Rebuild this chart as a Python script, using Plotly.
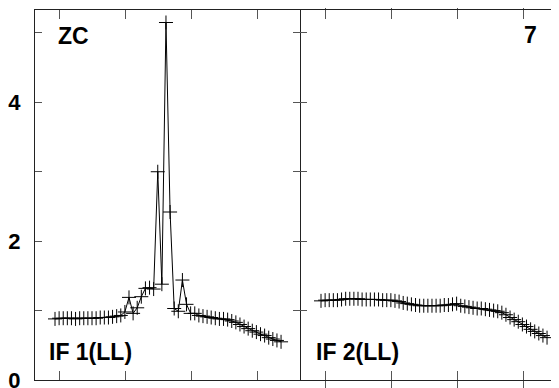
import plotly.graph_objects as go

# channel numbers
channels = list(range(1, 57))

# IF 1 (LL) amplitudes
if1_amp = [0.88, 0.89, 0.89, 0.89, 0.89, 0.88, 0.89, 0.89, 0.89, 0.89,
           0.89, 0.90, 0.90, 0.90, 0.91, 0.92, 0.93, 0.98, 1.19, 0.96,
           1.04, 1.20, 1.32, 1.33, 1.31, 3.00, 1.38, 5.15, 2.42, 1.03,
           0.99, 1.44, 1.09, 0.96, 0.96, 0.93, 0.92, 0.91, 0.90, 0.89,
           0.88, 0.88, 0.87, 0.85, 0.83, 0.80, 0.77, 0.74, 0.71, 0.69,
           0.66, 0.64, 0.61, 0.59, 0.57, 0.55]

# IF 2 (LL) amplitudes
if2_amp = [1.14, 1.15, 1.15, 1.15, 1.15, 1.16, 1.17, 1.17, 1.17, 1.17,
           1.16, 1.16, 1.16, 1.16, 1.16, 1.15, 1.15, 1.15, 1.14, 1.13,
           1.11, 1.10, 1.09, 1.08, 1.07, 1.07, 1.07, 1.07, 1.07, 1.07,
           1.08, 1.08, 1.09, 1.10, 1.07, 1.06, 1.05, 1.04, 1.03, 1.03,
           1.02, 1.01, 1.00, 0.99, 0.97, 0.94, 0.90, 0.87, 0.84, 0.80,
           0.77, 0.73, 0.70, 0.67, 0.64, 0.61]

x_tick_vals = [2.2, 18.2, 34.2, 50.2]
y_tick_vals = [0, 1, 2, 3, 4, 5]
y_tick_text = ["0", "", "2", "", "4", ""]

panel_labels = ["IF 1(LL)", "IF 2(LL)"]
source_name = "ZC"
plot_number = "7"

# the page body has an 8px margin, so the figure is sized to end at the window edge
OFF = 8
W, H = 559 - OFF, 388 - OFF
ML, MR, MT, MB = 35 - OFF, 0, 10 - OFF, 8
PW, PH = W - ML - MR, H - MT - MB
split = (300 - 35) / PW

line_col = "#222222"
tick_col = "#555555"

fig = go.Figure()
marker = dict(symbol="cross-thin", size=10, line=dict(width=1, color="black"), color="black")
fig.add_trace(go.Scatter(x=channels, y=if1_amp, mode="lines+markers",
                         line=dict(color="black", width=1), marker=marker,
                         xaxis="x", yaxis="y", showlegend=False))
fig.add_trace(go.Scatter(x=channels, y=if2_amp, mode="lines+markers",
                         line=dict(color="black", width=1), marker=marker,
                         xaxis="x2", yaxis="y2", showlegend=False))
# invisible trace to carry the right-hand tick axis of the second panel
fig.add_trace(go.Scatter(x=[channels[0]], y=[if2_amp[0]], mode="markers",
                         marker=dict(opacity=0), xaxis="x2", yaxis="y3",
                         showlegend=False, hoverinfo="skip"))

yrange = [0, 5.33]
xcommon = dict(tickvals=x_tick_vals, ticks="inside", ticklen=9, tickcolor=tick_col,
               showticklabels=False, showgrid=False, zeroline=False, automargin=False,
               showline=True, linecolor=line_col, linewidth=1, mirror="allticks")
ycommon = dict(range=yrange, tickvals=y_tick_vals, ticks="inside", ticklen=7,
               tickcolor=tick_col, showgrid=False, zeroline=False, automargin=False,
               linecolor=line_col, linewidth=1)

fig.update_layout(
    width=W, height=H,
    margin=dict(l=ML, r=MR, t=MT, b=MB, pad=0),
    paper_bgcolor="white", plot_bgcolor="white",
    xaxis=dict(domain=[0, split], range=[-3.87, 60.61], anchor="y", **xcommon),
    xaxis2=dict(domain=[split, 1], range=[-4.11, 58.91], anchor="y2", **xcommon),
    yaxis=dict(domain=[0, 1], anchor="x", ticktext=y_tick_text, mirror="allticks",
               showline=True, ticklabeloverflow="allow",
               tickfont=dict(family="Liberation Sans", size=22, color="black", weight="bold"),
               ticklabelstandoff=9, **ycommon),
    yaxis2=dict(domain=[0, 1], anchor="x2", showticklabels=False, mirror=False,
                showline=False, **ycommon),
    yaxis3=dict(overlaying="y2", anchor="x2", side="right", range=yrange, automargin=False,
                tickvals=y_tick_vals, ticks="inside", ticklen=7, tickcolor=tick_col,
                showticklabels=False, showgrid=False, zeroline=False, showline=False),
)

font_lbl = dict(family="Liberation Sans", size=23, color="black", weight="bold")

def px(xp):
    return (xp - 35) / PW

def py(yp):
    return (380 - yp) / PH

ann = [
    dict(text=source_name, x=px(56), y=py(36), xanchor="left", yanchor="middle"),
    dict(text=plot_number, x=px(539), y=py(35), xanchor="right", yanchor="middle"),
    dict(text=panel_labels[0], x=px(47), y=py(352), xanchor="left", yanchor="middle"),
    dict(text=panel_labels[1], x=px(314), y=py(352), xanchor="left", yanchor="middle"),
]
for a in ann:
    fig.add_annotation(xref="paper", yref="paper", showarrow=False, font=font_lbl, **a)

fig.write_html("out.html")
